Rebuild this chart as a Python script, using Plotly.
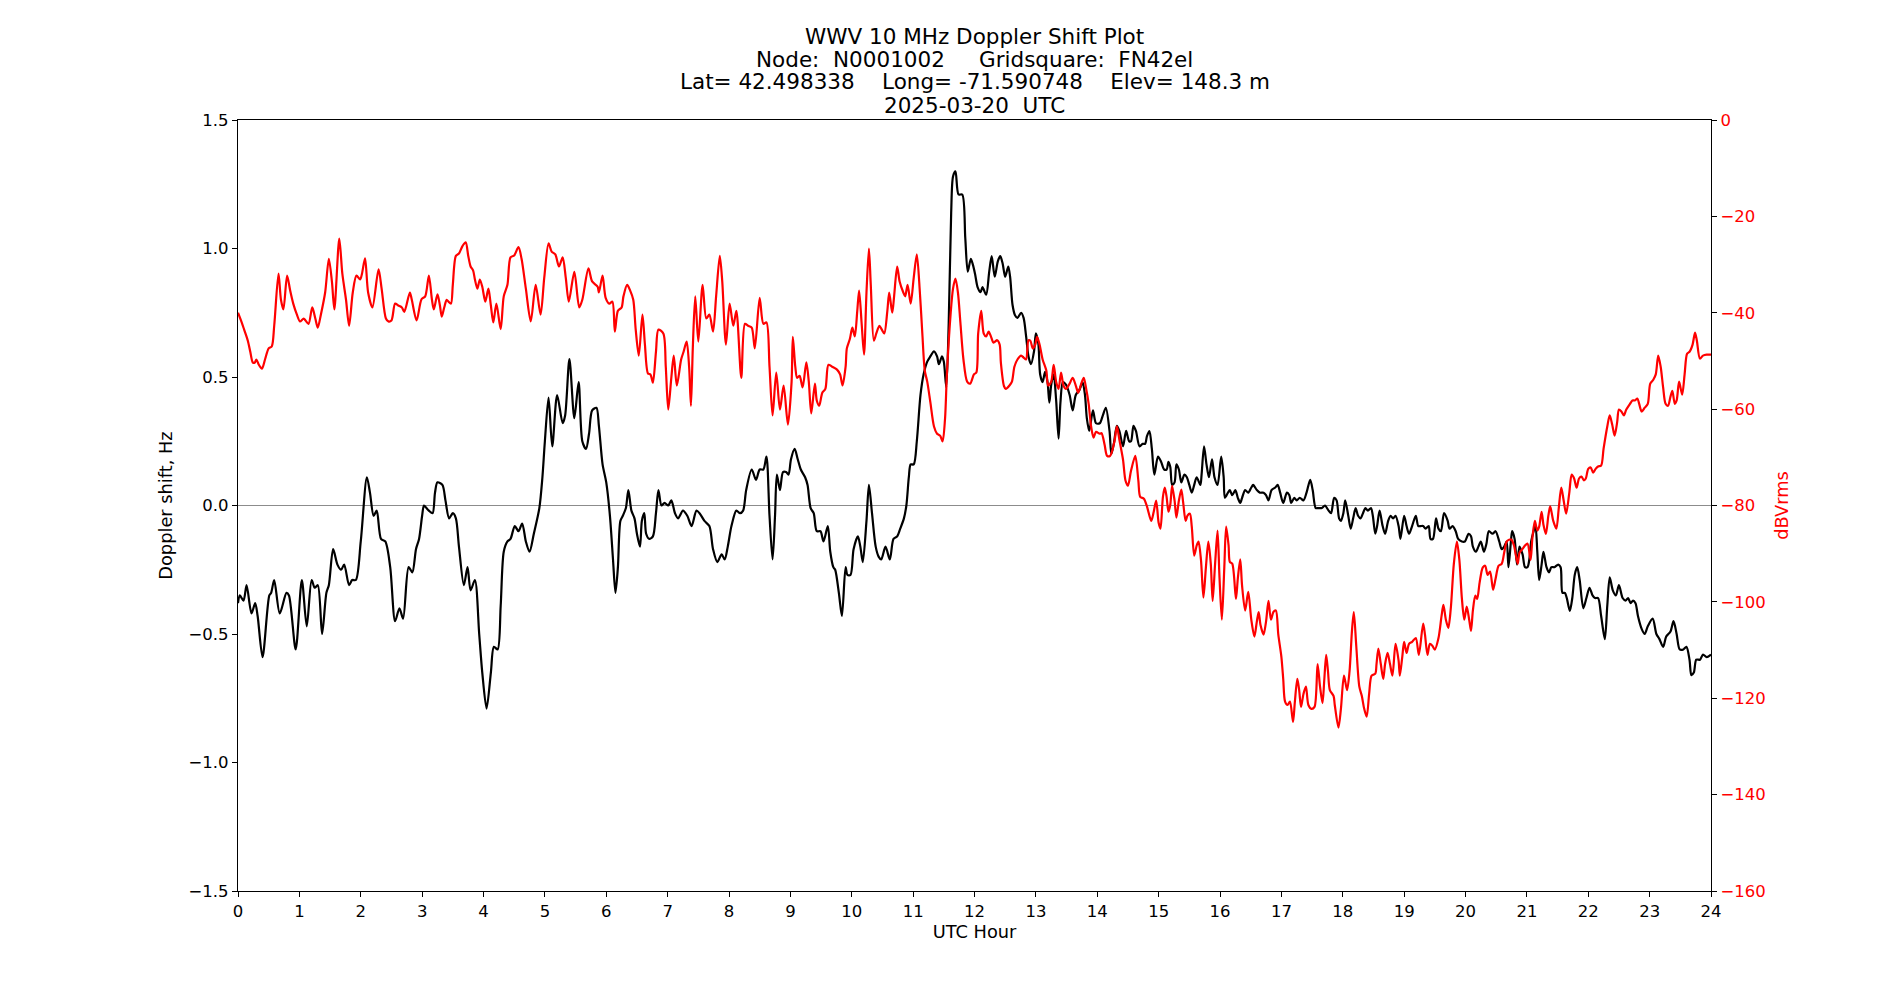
import plotly.graph_objects as go

# ---- data ----
doppler_hours = [0.00,0.03,0.09,0.14,0.22,0.28,0.32,0.40,0.51,0.54,0.59,0.68,0.79,0.83,0.94,1.04,1.12,1.20,1.25,1.30,1.37,1.44,1.48,1.55,1.62,1.68,1.73,1.81,1.86,1.92,2.00,2.10,2.15,2.21,2.26,2.33,2.40,2.48,2.56,2.63,2.69,2.78,2.84,2.90,2.95,
3.00,3.03,3.07,3.11,3.17,3.21,3.25,3.33,3.38,3.44,3.50,3.55,3.60,3.68,3.74,3.79,3.86,3.93,3.98,4.05,4.12,4.17,4.23,4.28,4.33,4.39,4.44,4.51,4.57,4.63,4.69,4.75,4.82,4.91,4.96,5.00,5.06,5.12,5.20,5.29,5.33,5.40,5.48,5.55,5.61,5.67,5.72,5.77,5.84,5.88,5.94,6.00,6.06,
6.11,6.15,6.19,6.23,6.27,6.32,6.36,6.41,6.46,6.50,6.55,6.58,6.62,6.65,6.70,6.76,6.81,6.85,6.90,6.95,7.01,7.06,7.12,7.17,7.25,7.32,7.39,7.47,7.52,7.60,7.68,7.74,7.81,7.88,7.93,7.98,8.04,8.12,8.18,8.23,8.28,8.37,8.44,8.50,8.56,8.61,8.66,8.71,8.75,8.78,8.83,8.88,
8.93,8.97,9.01,9.07,9.12,9.17,9.24,9.28,9.33,9.38,9.43,9.49,9.54,9.61,9.65,9.70,9.73,9.79,9.84,9.90,9.93,9.98,10.03,10.10,10.14,10.18,10.24,10.28,10.33,10.39,10.44,10.48,10.55,10.62,10.68,10.74,10.79,10.85,10.89,10.93,10.96,11.01,11.06,11.12,11.17,11.23,11.28,11.34,11.39,11.42,11.47,11.50,11.54,11.58,11.62,11.65,11.69,11.74,11.80,11.85,11.89,
11.94,11.97,12.01,12.05,12.10,12.13,12.19,12.24,12.28,12.33,12.38,12.42,12.46,12.50,12.55,12.58,12.62,12.66,12.70,12.76,12.80,12.84,12.88,12.92,12.97,13.00,13.04,13.07,13.11,13.15,13.19,13.22,13.25,13.29,13.33,13.37,13.40,13.44,13.49,13.55,13.60,13.65,13.71,13.76,13.80,13.83,13.87,13.93,13.98,14.04,14.09,14.14,14.20,14.23,14.27,14.32,14.36,14.42,14.47,14.52,14.55,14.59,14.63,14.69,14.74,14.78,14.81,14.85,14.89,14.93,14.99,15.04,
15.09,15.13,15.16,15.19,15.22,15.26,15.29,15.33,15.37,15.42,15.46,15.50,15.54,15.58,15.62,15.68,15.70,15.74,15.78,15.82,15.87,15.91,15.96,16.02,16.06,16.08,16.13,16.16,16.20,16.25,16.29,16.33,16.36,16.41,16.46,16.51,16.54,16.60,16.65,16.71,16.75,16.79,16.84,16.90,16.94,16.98,17.03,17.09,17.13,17.16,17.21,17.25,17.30,17.36,17.41,17.47,17.51,17.56,17.60,17.66,17.71,17.77,17.81,17.86,17.90,17.94,17.97,18.01,18.04,
18.09,18.13,18.17,18.21,18.25,18.29,18.33,18.37,18.41,18.46,18.49,18.53,18.56,18.60,18.65,18.69,18.74,18.78,18.82,18.86,18.91,18.94,19.00,19.04,19.08,19.13,19.19,19.23,19.27,19.31,19.35,19.40,19.43,19.47,19.52,19.56,19.60,19.65,19.71,19.74,19.79,19.84,19.88,19.94,19.99,20.05,20.09,20.12,20.17,20.21,20.25,20.30,20.34,20.38,20.44,20.49,20.55,20.59,20.63,20.67,20.70,20.74,20.76,20.80,20.84,20.88,20.93,20.97,21.01,
21.04,21.07,21.11,21.14,21.17,21.20,21.24,21.27,21.32,21.36,21.40,21.45,21.51,21.55,21.58,21.62,21.65,21.70,21.74,21.78,21.82,21.86,21.92,21.97,22.02,22.07,22.11,22.16,22.21,22.27,22.31,22.35,22.40,22.45,22.50,22.56,22.61,22.65,22.69,22.73,22.77,22.81,22.87,22.92,22.97,23.05,23.11,23.16,23.22,23.27,23.34,23.39,23.44,23.49,23.55,23.60,23.65,23.68,23.72,23.76,23.82,23.87,23.93,24.00]

doppler_hz = [-0.38,-0.35,-0.37,-0.31,-0.42,-0.38,-0.43,-0.59,-0.35,-0.34,-0.29,-0.42,-0.34,-0.35,-0.56,-0.29,-0.47,-0.29,-0.32,-0.31,-0.50,-0.34,-0.31,-0.17,-0.23,-0.25,-0.23,-0.31,-0.29,-0.29,-0.14,0.11,0.05,-0.04,-0.02,-0.13,-0.14,-0.24,-0.45,-0.40,-0.44,-0.24,-0.26,-0.17,-0.13,
-0.04,0.00,-0.01,-0.02,-0.03,0.05,0.09,0.08,0.02,-0.05,-0.03,-0.05,-0.16,-0.31,-0.24,-0.33,-0.29,-0.50,-0.65,-0.79,-0.65,-0.55,-0.56,-0.39,-0.18,-0.14,-0.13,-0.08,-0.10,-0.07,-0.14,-0.18,-0.11,-0.01,0.11,0.25,0.42,0.23,0.43,0.32,0.35,0.57,0.34,0.48,0.25,0.22,0.28,0.37,0.38,0.31,0.16,0.09,-0.04,
-0.21,-0.34,-0.24,-0.06,-0.04,-0.01,0.06,-0.02,-0.05,-0.11,-0.16,-0.06,-0.03,-0.11,-0.13,-0.12,-0.03,0.06,0.00,0.01,0.00,0.02,-0.03,-0.05,-0.02,-0.04,-0.08,-0.02,-0.03,-0.06,-0.08,-0.17,-0.22,-0.19,-0.21,-0.16,-0.08,-0.02,-0.03,-0.02,0.06,0.14,0.10,0.14,0.14,0.19,-0.04,-0.21,-0.04,0.12,0.06,0.13,
0.13,0.12,0.18,0.22,0.18,0.14,0.11,0.08,-0.01,-0.03,-0.10,-0.10,-0.14,-0.08,-0.18,-0.24,-0.25,-0.34,-0.43,-0.24,-0.27,-0.27,-0.17,-0.12,-0.16,-0.22,-0.06,0.08,-0.03,-0.16,-0.20,-0.21,-0.16,-0.21,-0.13,-0.12,-0.09,-0.05,0.00,0.11,0.16,0.16,0.25,0.43,0.51,0.56,0.58,0.60,0.58,0.55,0.58,0.56,0.46,0.71,1.14,1.28,1.30,1.21,1.21,1.04,0.91,
0.96,0.94,0.90,0.85,0.83,0.85,0.82,0.91,0.97,0.89,0.95,0.97,0.94,0.89,0.93,0.89,0.78,0.74,0.73,0.75,0.73,0.66,0.58,0.55,0.60,0.67,0.63,0.51,0.48,0.52,0.48,0.40,0.47,0.51,0.41,0.26,0.40,0.48,0.47,0.43,0.37,0.43,0.45,0.48,0.43,0.34,0.29,0.37,0.32,0.32,0.35,0.38,0.29,0.20,0.24,0.31,0.29,0.23,0.29,0.25,0.25,0.31,0.29,0.23,0.24,0.24,0.27,0.29,0.22,0.12,0.19,0.17,
0.14,0.14,0.17,0.15,0.08,0.09,0.16,0.14,0.09,0.12,0.11,0.08,0.05,0.08,0.11,0.08,0.12,0.23,0.16,0.11,0.18,0.11,0.08,0.19,0.11,0.03,0.05,0.06,0.04,0.06,0.03,0.01,0.03,0.06,0.05,0.07,0.08,0.06,0.05,0.05,0.04,0.02,0.06,0.07,0.08,0.05,0.01,0.05,0.04,0.01,0.03,0.02,0.03,0.02,0.05,0.10,0.06,-0.01,-0.01,-0.01,0.00,-0.02,-0.03,0.03,0.02,-0.05,-0.06,-0.03,0.02,
-0.04,-0.09,-0.05,-0.01,-0.04,-0.05,-0.03,-0.01,-0.02,-0.01,-0.04,-0.11,-0.08,-0.02,-0.08,-0.11,-0.06,-0.04,-0.05,-0.04,-0.08,-0.13,-0.04,-0.08,-0.11,-0.08,-0.04,-0.08,-0.08,-0.08,-0.09,-0.08,-0.13,-0.13,-0.05,-0.09,-0.10,-0.03,-0.06,-0.09,-0.08,-0.10,-0.13,-0.14,-0.14,-0.11,-0.12,-0.16,-0.18,-0.16,-0.14,-0.18,-0.15,-0.10,-0.11,-0.10,-0.14,-0.17,-0.16,-0.14,-0.24,-0.14,-0.10,-0.13,-0.23,-0.16,-0.19,-0.24,-0.24,
-0.21,-0.14,-0.10,-0.08,-0.18,-0.29,-0.23,-0.18,-0.24,-0.26,-0.24,-0.24,-0.23,-0.24,-0.34,-0.34,-0.36,-0.41,-0.36,-0.27,-0.24,-0.29,-0.40,-0.36,-0.32,-0.35,-0.36,-0.36,-0.43,-0.52,-0.39,-0.28,-0.33,-0.35,-0.31,-0.36,-0.37,-0.36,-0.38,-0.37,-0.38,-0.43,-0.48,-0.50,-0.47,-0.44,-0.50,-0.52,-0.55,-0.51,-0.49,-0.45,-0.50,-0.56,-0.56,-0.55,-0.60,-0.66,-0.65,-0.60,-0.60,-0.58,-0.59,-0.58]

power_hours = [0.00,0.06,0.10,0.16,0.20,0.24,0.27,0.30,0.34,0.39,0.44,0.50,0.55,0.59,0.66,0.70,0.74,0.80,0.85,0.90,0.96,1.01,1.07,1.10,1.15,1.21,1.26,1.30,1.35,1.42,1.48,1.53,1.57,1.65,1.70,1.76,1.81,1.87,1.93,1.99,2.02,2.07,2.12,2.19,2.29,2.34,2.41,2.45,2.50,2.56,2.61,2.67,2.71,2.80,2.83,2.91,2.99,3.05,
3.11,3.16,3.19,3.25,3.29,3.32,3.36,3.40,3.43,3.47,3.50,3.55,3.60,3.66,3.71,3.75,3.79,3.83,3.86,3.90,3.94,3.98,4.03,4.08,4.12,4.16,4.21,4.28,4.33,4.39,4.44,4.50,4.57,4.62,4.69,4.77,4.85,4.93,4.99,5.06,5.11,5.17,5.23,5.29,5.34,5.39,5.48,5.56,5.61,5.71,5.77,5.86,5.88,5.94,5.99,6.05,
6.10,6.14,6.19,6.25,6.28,6.34,6.39,6.44,6.48,6.53,6.59,6.63,6.68,6.72,6.76,6.81,6.85,6.93,6.97,7.01,7.06,7.10,7.15,7.22,7.26,7.31,7.35,7.38,7.41,7.45,7.50,7.57,7.63,7.68,7.74,7.79,7.85,7.89,7.95,8.01,8.07,8.12,8.20,8.26,8.31,8.37,8.42,8.50,8.56,8.61,8.66,8.71,8.77,8.83,8.89,8.96,9.02,9.04,
9.08,9.11,9.15,9.20,9.26,9.30,9.34,9.40,9.43,9.47,9.52,9.57,9.62,9.68,9.76,9.81,9.85,9.90,9.92,9.97,10.01,10.05,10.09,10.12,10.16,10.20,10.24,10.28,10.31,10.36,10.40,10.45,10.49,10.53,10.58,10.61,10.66,10.69,10.74,10.78,10.84,10.87,10.91,10.96,11.01,11.06,11.11,11.15,11.19,11.23,11.28,11.34,11.39,11.44,11.48,11.52,11.55,11.61,11.65,11.69,11.73,11.77,11.82,11.88,11.93,11.99,12.03,
12.06,12.11,12.15,12.19,12.23,12.27,12.31,12.37,12.41,12.43,12.48,12.51,12.57,12.61,12.65,12.70,12.76,12.80,12.84,12.88,12.91,12.95,12.99,13.02,13.06,13.11,13.17,13.20,13.25,13.29,13.33,13.37,13.41,13.45,13.49,13.55,13.60,13.65,13.69,13.74,13.78,13.82,13.86,13.90,13.94,13.98,14.04,14.07,14.12,14.16,14.21,14.28,14.32,14.36,14.42,14.46,14.50,14.55,14.62,14.67,14.70,14.76,14.81,14.88,14.92,14.96,15.00,15.03,15.07,
15.10,15.13,15.16,15.19,15.22,15.26,15.29,15.33,15.37,15.40,15.44,15.47,15.51,15.54,15.58,15.62,15.65,15.69,15.73,15.77,15.81,15.85,15.88,15.92,15.96,15.99,16.03,16.07,16.10,16.14,16.16,16.20,16.26,16.29,16.33,16.36,16.41,16.46,16.51,16.56,16.60,16.63,16.66,16.71,16.75,16.79,16.83,16.87,16.91,16.95,17.00,17.03,17.06,17.10,17.14,17.19,17.22,17.26,17.29,17.32,17.36,17.40,17.44,17.49,17.54,17.59,17.63,17.67,17.70,17.73,17.76,17.79,17.85,17.87,17.93,17.97,18.02,18.07,
18.11,18.15,18.18,18.22,18.27,18.31,18.35,18.39,18.43,18.47,18.53,18.55,18.58,18.62,18.66,18.69,18.73,18.77,18.81,18.86,18.91,18.93,18.97,19.00,19.04,19.08,19.13,19.19,19.24,19.31,19.34,19.38,19.42,19.46,19.50,19.56,19.61,19.64,19.68,19.72,19.76,19.81,19.86,19.90,19.94,19.98,20.02,20.06,20.09,20.12,20.16,20.19,20.23,20.28,20.32,20.36,20.40,20.45,20.49,20.54,20.59,20.63,20.67,20.71,20.75,20.79,20.85,20.88,20.93,20.97,21.01,21.06,
21.09,21.13,21.17,21.20,21.24,21.27,21.31,21.35,21.38,21.43,21.48,21.52,21.56,21.60,21.64,21.69,21.73,21.77,21.81,21.85,21.89,21.93,21.96,22.00,22.04,22.08,22.12,22.16,22.21,22.25,22.31,22.35,22.39,22.43,22.47,22.50,22.54,22.58,22.62,22.68,22.72,22.76,22.80,22.83,22.87,22.92,22.97,23.01,23.06,23.10,23.14,23.18,23.22,23.26,23.30,23.34,23.37,23.41,23.44,23.48,23.53,23.57,23.61,23.65,23.70,23.74,23.77,23.82,23.87,23.93,24.00]

power_dbv = [-40.0,-42.0,-43.5,-45.8,-48.1,-50.3,-50.4,-49.7,-50.8,-51.6,-49.7,-47.4,-47.0,-42.7,-31.9,-37.3,-39.3,-32.3,-35.4,-38.1,-40.4,-41.8,-41.2,-41.6,-42.3,-38.9,-41.2,-43.1,-40.4,-35.8,-28.8,-33.5,-39.3,-24.6,-31.9,-37.3,-42.7,-35.8,-32.3,-33.1,-31.9,-28.7,-35.8,-38.9,-31.0,-35.0,-41.2,-41.8,-41.6,-38.1,-38.5,-38.9,-39.8,-35.8,-37.2,-41.6,-37.2,-36.6,
-32.3,-37.3,-39.3,-36.2,-38.5,-40.8,-38.9,-37.3,-37.7,-38.1,-34.2,-28.2,-27.7,-26.1,-25.4,-28.1,-30.4,-31.2,-33.1,-35.0,-33.1,-34.6,-37.7,-35.0,-38.5,-42.0,-38.1,-43.4,-36.6,-34.2,-28.5,-28.1,-26.4,-28.8,-35.0,-41.8,-34.2,-40.4,-32.7,-25.6,-27.3,-27.9,-30.4,-28.5,-32.7,-37.7,-31.5,-38.9,-37.3,-30.8,-33.5,-34.6,-35.8,-32.3,-36.9,-38.1,
-37.7,-43.9,-39.6,-38.9,-36.6,-34.2,-35.4,-37.3,-43.5,-48.9,-40.4,-46.6,-52.6,-52.8,-54.5,-48.1,-43.5,-44.3,-51.2,-60.1,-53.5,-48.9,-55.1,-49.7,-48.1,-46.0,-51.2,-59.3,-47.4,-36.6,-46.0,-34.2,-41.2,-40.4,-43.9,-36.6,-28.2,-33.5,-46.6,-38.1,-42.7,-39.6,-53.5,-42.3,-42.7,-43.1,-47.4,-36.9,-42.3,-42.0,-51.2,-61.3,-52.4,-60.1,-55.1,-63.2,-54.3,-45.0,
-51.2,-53.5,-53.1,-55.5,-50.3,-54.3,-60.9,-54.7,-58.2,-59.3,-56.6,-55.8,-50.8,-51.2,-51.8,-52.8,-55.1,-51.2,-47.4,-45.4,-43.1,-44.9,-39.6,-35.4,-42.0,-48.7,-35.8,-26.7,-34.2,-45.8,-44.3,-42.7,-43.5,-44.3,-39.6,-35.8,-40.0,-36.6,-30.4,-33.5,-35.8,-36.6,-34.2,-38.1,-32.7,-27.9,-35.8,-44.3,-52.0,-54.3,-58.5,-63.6,-65.1,-65.5,-66.7,-62.0,-52.8,-40.4,-35.0,-32.9,-35.8,-42.0,-49.7,-54.3,-54.7,-52.8,-52.4,
-44.3,-39.6,-44.3,-44.9,-43.9,-45.0,-46.2,-45.7,-46.6,-50.4,-55.2,-55.8,-55.1,-54.3,-51.2,-49.7,-48.9,-49.3,-49.7,-45.7,-45.8,-47.4,-46.6,-45.0,-46.6,-49.7,-52.0,-55.1,-54.3,-50.8,-54.3,-55.8,-52.4,-55.1,-55.8,-54.7,-53.5,-55.1,-56.6,-54.7,-53.5,-55.8,-58.9,-63.6,-65.9,-64.7,-65.1,-65.0,-67.4,-69.7,-69.7,-66.7,-63.6,-66.3,-70.5,-74.8,-75.9,-72.8,-69.7,-74.9,-78.2,-78.6,-80.2,-83.2,-81.3,-79.0,-83.6,-84.8,-78.2,
-76.3,-78.2,-81.3,-79.8,-75.9,-79.0,-82.5,-79.0,-76.7,-79.4,-83.2,-82.1,-81.7,-84.4,-90.4,-88.3,-87.5,-91.3,-99.1,-92.9,-87.5,-92.1,-99.8,-92.1,-85.2,-94.4,-103.7,-92.9,-84.4,-88.3,-91.7,-92.1,-99.4,-95.2,-91.2,-96.7,-101.8,-97.9,-103.7,-107.2,-104.1,-102.1,-104.8,-106.8,-104.1,-99.8,-103.7,-102.1,-101.8,-106.8,-111.4,-116.0,-120.7,-121.4,-120.7,-124.9,-120.7,-116.0,-118.3,-121.8,-119.1,-117.6,-121.4,-122.2,-121.8,-112.9,-117.6,-121.0,-116.0,-111.0,-114.5,-118.3,-119.5,-121.4,-126.1,-122.2,-115.3,-118.3,
-114.5,-106.0,-102.1,-109.1,-117.6,-119.5,-122.2,-123.8,-119.1,-115.3,-114.9,-112.9,-109.7,-112.9,-116.0,-112.9,-110.6,-112.9,-115.3,-108.7,-112.2,-115.3,-111.4,-108.3,-110.6,-108.7,-108.3,-107.5,-111.0,-104.5,-106.8,-111.0,-108.7,-109.1,-109.9,-107.5,-102.9,-100.6,-103.7,-105.4,-101.4,-92.1,-87.5,-91.3,-99.1,-103.7,-101.0,-103.7,-106.0,-101.8,-98.7,-99.4,-96.0,-92.9,-92.5,-94.4,-93.7,-97.5,-95.2,-92.5,-92.1,-89.8,-87.5,-87.1,-87.1,-88.3,-92.1,-89.8,-89.0,-88.3,-87.9,-91.3,
-86.7,-83.2,-85.2,-84.4,-81.3,-84.0,-85.9,-82.1,-80.2,-83.2,-84.8,-80.5,-76.3,-79.0,-81.7,-77.5,-73.6,-74.4,-76.3,-74.4,-74.0,-74.8,-74.4,-72.4,-72.1,-73.2,-72.4,-71.9,-71.7,-68.2,-63.6,-61.3,-63.2,-65.5,-62.8,-60.1,-60.5,-61.3,-60.1,-58.9,-58.2,-58.2,-57.8,-58.9,-60.5,-59.7,-58.9,-54.7,-53.9,-52.8,-48.9,-51.2,-55.5,-58.9,-59.3,-57.4,-56.2,-58.9,-58.2,-54.3,-57.0,-52.8,-48.5,-48.1,-46.6,-44.1,-45.8,-49.5,-48.9,-48.7,-48.7]

x_ticks = list(range(0, 25))
left_ticks = [-1.5, -1.0, -0.5, 0.0, 0.5, 1.0, 1.5]
right_ticks = [-160, -140, -120, -100, -80, -60, -40, -20, 0]

title_lines = ["WWV 10 MHz Doppler Shift Plot",
               "Node:  N0001002     Gridsquare:  FN42el",
               "Lat= 42.498338    Long= -71.590748    Elev= 148.3 m",
               "2025-03-20  UTC"]
title_line_y = [1.1087, 1.0785, 1.0496, 1.0188]  # paper positions of the title lines

FONT = "DejaVu Sans"

fig = go.Figure()
fig.add_trace(go.Scatter(x=doppler_hours, y=doppler_hz, mode="lines",
                         line=dict(color="black", width=2.2, shape="spline", smoothing=0.8),
                         yaxis="y", showlegend=False))
fig.add_trace(go.Scatter(x=power_hours, y=power_dbv, mode="lines",
                         line=dict(color="red", width=2.2, shape="spline", smoothing=0.8),
                         yaxis="y2", showlegend=False))

for txt, yy in zip(title_lines, title_line_y):
    fig.add_annotation(text=txt.replace("  ", "&nbsp; "), x=0.5, xref="paper", y=yy, yref="paper",
                       xanchor="center", yanchor="middle", showarrow=False,
                       font=dict(family=FONT, size=21.5, color="black"))

fig.update_layout(
    width=1900, height=1000,
    margin=dict(l=238, r=189, t=120, b=109, autoexpand=False),
    paper_bgcolor="white", plot_bgcolor="white",
    font=dict(family=FONT, size=16.5, color="black"),
    xaxis=dict(range=[0, 24], tickmode="array", tickvals=x_ticks,
               showgrid=False, zeroline=False, showline=True, linecolor="black", linewidth=1.2,
               mirror=True, ticks="outside", ticklen=5, tickcolor="black",
               tickfont=dict(size=16.5),
               title=dict(text="UTC Hour", standoff=5, font=dict(size=17.8))),
    yaxis=dict(range=[-1.5, 1.5], tickmode="array", tickvals=left_ticks, tickformat=".1f",
               showgrid=False, zeroline=True, zerolinecolor="#8c8c8c", zerolinewidth=1.2,
               showline=True, linecolor="black", linewidth=1.2, mirror=True,
               ticks="outside", ticklen=5, tickcolor="black",
               tickfont=dict(size=16.5),
               title=dict(text="Doppler shift, Hz", standoff=11, font=dict(size=17.8))),
    yaxis2=dict(range=[-160, 0], tickmode="array", tickvals=right_ticks,
                overlaying="y", side="right", showgrid=False, zeroline=False,
                showline=True, linecolor="black", linewidth=1.2,
                ticks="outside", ticklen=5, tickcolor="black",
                tickfont=dict(color="red", size=16.5),
                title=dict(text="dBVrms", standoff=10, font=dict(color="red", size=17.8))),
)

fig.write_html("out.html")
